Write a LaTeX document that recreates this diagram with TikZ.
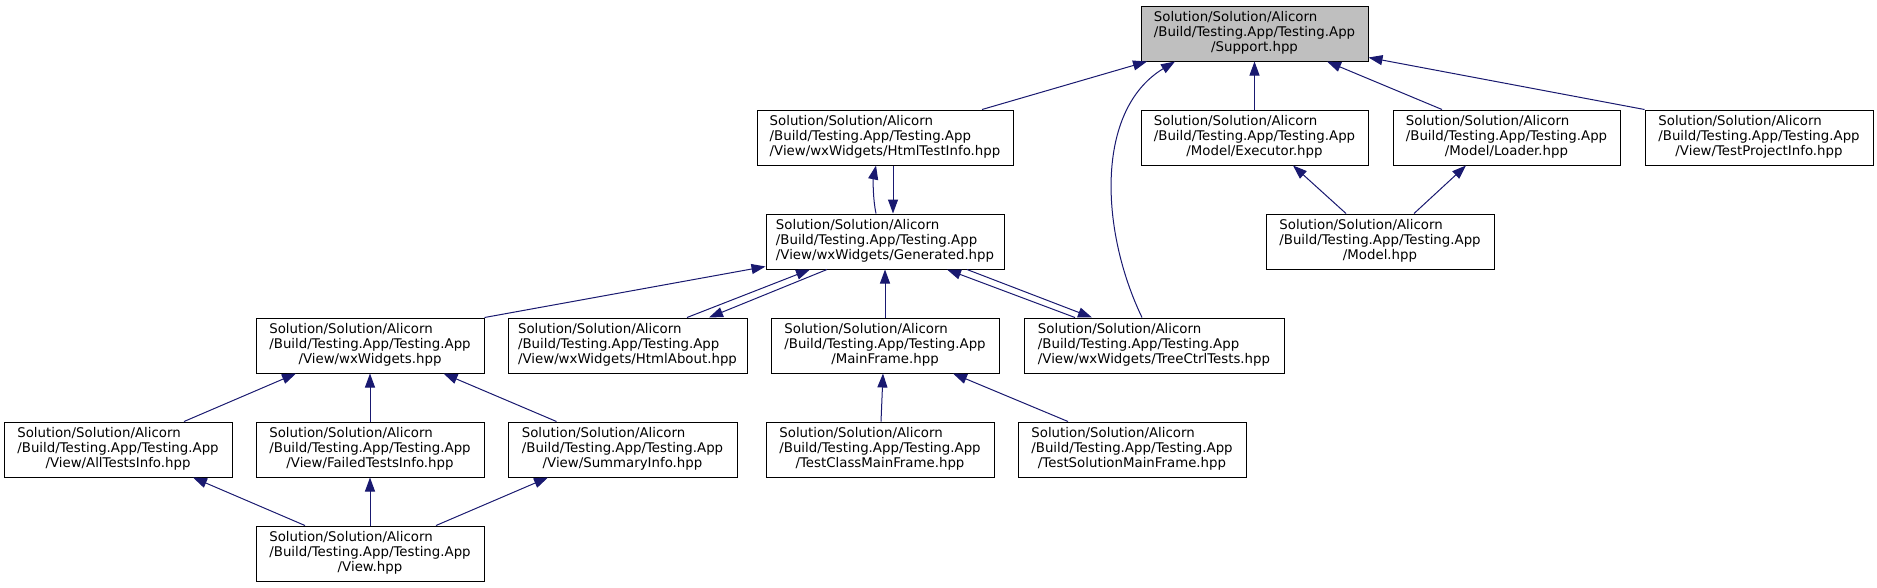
\documentclass[tikz,border=0pt]{standalone}
\usepackage{fontspec}
\setmainfont{DejaVu Sans}
\usetikzlibrary{arrows.meta,calc}
\definecolor{edgeblue}{HTML}{191970}
\definecolor{rootgray}{HTML}{BFBFBF}
\newcommand{\flbl}[3]{\begin{tabular}{@{}l@{}}#1\\#2\\\multicolumn{1}{@{}c@{}}{#3}\end{tabular}}
\begin{document}
\begin{tikzpicture}[x=0.75pt,y=-0.75pt,
  box/.style={draw=black, line width=0.75pt, fill=white, inner sep=0pt,
    minimum height=41.25pt, font=\fontsize{10}{11}\selectfont},
  edge/.style={draw=edgeblue, line width=0.75pt, {Triangle[length=10.5pt,width=7.5pt]}-}]
\fill[white] (0,0) rectangle (1877,587);
\useasboundingbox (0,0) rectangle (1877,587);
% nodes
\node[box, fill=rootgray, minimum width=227*0.75pt] (support) at (1254.5,33.5) {\flbl{Solution/Solution/Alicorn}{/Build/Testing.App/Testing.App}{/Support.hpp}};
\node[box, minimum width=256*0.75pt] (htmltest) at (885,137.5) {\flbl{Solution/Solution/Alicorn}{/Build/Testing.App/Testing.App}{/View/wxWidgets/HtmlTestInfo.hpp}};
\node[box, minimum width=227*0.75pt] (executor) at (1254.5,137.5) {\flbl{Solution/Solution/Alicorn}{/Build/Testing.App/Testing.App}{/Model/Executor.hpp}};
\node[box, minimum width=227*0.75pt] (loader) at (1506.5,137.5) {\flbl{Solution/Solution/Alicorn}{/Build/Testing.App/Testing.App}{/Model/Loader.hpp}};
\node[box, minimum width=228*0.75pt] (testproj) at (1759,137.5) {\flbl{Solution/Solution/Alicorn}{/Build/Testing.App/Testing.App}{/View/TestProjectInfo.hpp}};
\node[box, minimum width=238*0.75pt] (generated) at (885,241.5) {\flbl{Solution/Solution/Alicorn}{/Build/Testing.App/Testing.App}{/View/wxWidgets/Generated.hpp}};
\node[box, minimum width=228*0.75pt] (model) at (1380,241.5) {\flbl{Solution/Solution/Alicorn}{/Build/Testing.App/Testing.App}{/Model.hpp}};
\node[box, minimum width=228*0.75pt] (wxw) at (370,345.5) {\flbl{Solution/Solution/Alicorn}{/Build/Testing.App/Testing.App}{/View/wxWidgets.hpp}};
\node[box, minimum width=239*0.75pt] (htmlabout) at (627.5,345.5) {\flbl{Solution/Solution/Alicorn}{/Build/Testing.App/Testing.App}{/View/wxWidgets/HtmlAbout.hpp}};
\node[box, minimum width=228*0.75pt] (mainframe) at (885,345.5) {\flbl{Solution/Solution/Alicorn}{/Build/Testing.App/Testing.App}{/MainFrame.hpp}};
\node[box, minimum width=260*0.75pt] (treectrl) at (1154,345.5) {\flbl{Solution/Solution/Alicorn}{/Build/Testing.App/Testing.App}{/View/wxWidgets/TreeCtrlTests.hpp}};
\node[box, minimum width=228*0.75pt] (alltests) at (118,449.5) {\flbl{Solution/Solution/Alicorn}{/Build/Testing.App/Testing.App}{/View/AllTestsInfo.hpp}};
\node[box, minimum width=228*0.75pt] (failed) at (370,449.5) {\flbl{Solution/Solution/Alicorn}{/Build/Testing.App/Testing.App}{/View/FailedTestsInfo.hpp}};
\node[box, minimum width=229*0.75pt] (summary) at (622.5,449.5) {\flbl{Solution/Solution/Alicorn}{/Build/Testing.App/Testing.App}{/View/SummaryInfo.hpp}};
\node[box, minimum width=228*0.75pt] (testclass) at (880,449.5) {\flbl{Solution/Solution/Alicorn}{/Build/Testing.App/Testing.App}{/TestClassMainFrame.hpp}};
\node[box, minimum width=228*0.75pt] (testsol) at (1132,449.5) {\flbl{Solution/Solution/Alicorn}{/Build/Testing.App/Testing.App}{/TestSolutionMainFrame.hpp}};
\node[box, minimum width=228*0.75pt] (view) at (370,553.5) {\flbl{Solution/Solution/Alicorn}{/Build/Testing.App/Testing.App}{/View.hpp}};
% edges
\draw[edge] ($(support.south)+(-107.5,0)$) -- ($(htmltest.north)+(97,0)$);
\draw[edge] ($(support.south)+(-79.5,0)$) .. controls (1095,110) and (1100,230) .. ($(treectrl.north)+(-12,0)$);
\draw[edge] (support.south) -- (executor.north);
\draw[edge] ($(support.south)+(72.5,0)$) -- ($(loader.north)+(-64.5,0)$);
\draw[edge] ($(support.south east)+(0,-4)$) -- (testproj.north west);
\draw[edge] ($(executor.south)+(38.5,0)$) -- ($(model.north)+(-34,0)$);
\draw[edge] ($(loader.south)+(-40.5,0)$) -- ($(model.north)+(34,0)$);
\draw[edge] ($(htmltest.south)+(-9,0)$) .. controls (873,180) and (873,200) .. ($(generated.north)+(-9,0)$);
\draw[edge] ($(generated.north)+(8,0)$) -- ($(htmltest.south)+(8,0)$);
\draw[edge] ($(generated.south west)+(0,-3)$) -- (wxw.north east);
\draw[edge] ($(generated.south)+(-75,0)$) -- ($(htmlabout.north)+(59.5,0)$);
\draw[edge] ($(htmlabout.north)+(81.5,0)$) -- ($(generated.south)+(-58,0)$);
\draw[edge] (generated.south) -- (mainframe.north);
\draw[edge] ($(generated.south)+(62,0)$) -- ($(treectrl.north)+(-79,0)$);
\draw[edge] ($(treectrl.north)+(-62,0)$) -- ($(generated.south)+(82,0)$);
\draw[edge] ($(wxw.south)+(-74,0)$) -- ($(alltests.north)+(66,0)$);
\draw[edge] (wxw.south) -- (failed.north);
\draw[edge] ($(wxw.south)+(73.5,0)$) -- ($(summary.north)+(-66,0)$);
\draw[edge] ($(alltests.south)+(75,0)$) -- ($(view.north)+(-65,0)$);
\draw[edge] (failed.south) -- (view.north);
\draw[edge] ($(summary.south)+(-74.5,0)$) -- ($(view.north)+(66,0)$);
\draw[edge] ($(mainframe.south)+(-2,0)$) -- ($(testclass.north)+(1,0)$);
\draw[edge] ($(mainframe.south)+(68,0)$) -- ($(testsol.north)+(-64,0)$);
\end{tikzpicture}
\end{document}
